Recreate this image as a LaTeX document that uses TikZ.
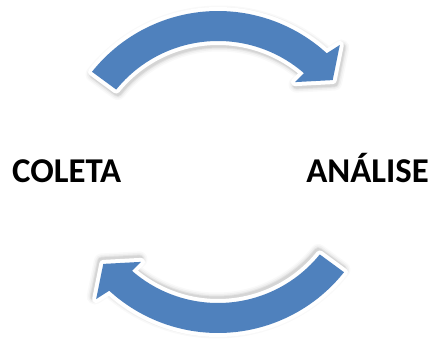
\documentclass[tikz,border=0pt]{standalone}
\usepackage{fontspec}
\setmainfont{Carlito}
\definecolor{cycleblue}{HTML}{4F81BD}

% One curved arrow of the cycle, centred on the origin.
% #1 = rotation, #2 = path options
\newcommand\cyclearrow[2]{%
  \path[rotate=#1, line join=round, #2]
    (141.5:161) arc[start angle=141.5, end angle=47.5, radius=161]
    -- (46.2:176) -- (38.7:147) -- (49.4:118.4) -- (49:131)
    arc[start angle=49, end angle=141, radius=131] -- cycle;}

% Soft shadow, white rim and blue body of one arrow
\newcommand\shadedarrow[1]{%
  \foreach \w/\o in {16/0.025, 13/0.035, 10/0.05, 8/0.06}{%
    \cyclearrow{#1}{shift={(1.5,-2.5)}, draw=black, draw opacity=\o, line width=\w pt}}
  \cyclearrow{#1}{draw=white, fill=white, line width=8pt}
  \cyclearrow{#1}{fill=cycleblue}}

\tikzset{
  steplabel/.style={font=\bfseries\fontsize{34.8}{40}\selectfont, inner sep=0pt},
}

\begin{document}
\begin{tikzpicture}[x=1pt, y=1pt]
  \useasboundingbox[fill=white] (-218,-171) rectangle (214,172);

  % upper arrow: COLETA -> ANÁLISE, lower arrow: back again
  \shadedarrow{0}
  \shadedarrow{180}

  \node[steplabel, anchor=base west] (coleta) at (-206,-11) {COLETA};
  \node[steplabel, anchor=base east] (analise) at (211,-11) {ANÁLISE};
\end{tikzpicture}
\end{document}
